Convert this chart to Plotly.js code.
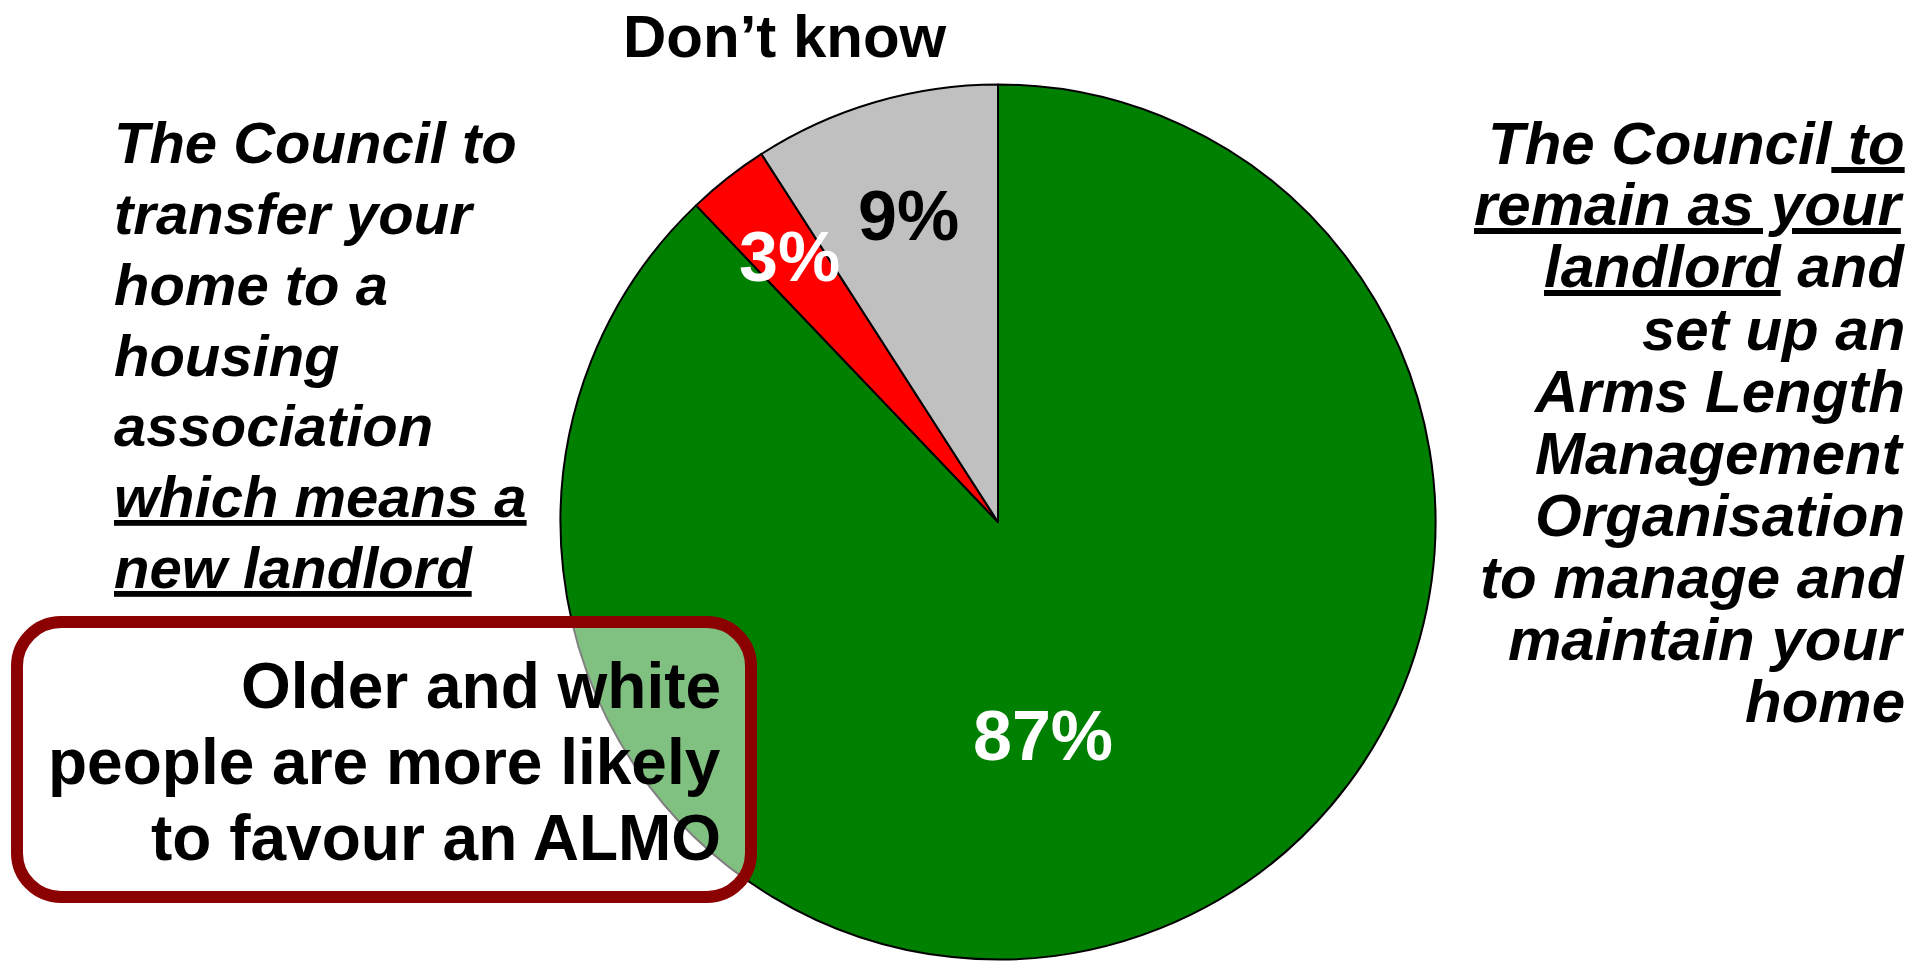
<!DOCTYPE html>
<html>
<head>
<meta charset="utf-8">
<script src="https://cdn.plot.ly/plotly-3.0.1.min.js"></script>
<style>
  html, body { margin: 0; padding: 0; background: #ffffff; }
  #chart { width: 1932px; height: 962px; }
</style>
</head>
<body>
<div id="chart"></div>
<script>
// Survey answers: preferred future for council housing
const categories = [
  "The Council to remain as your landlord and set up an ALMO",
  "The Council to transfer your home to a housing association",
  "Don\u2019t know"
];
const shares = [87, 3, 9];
const sliceColors = ["#008000", "#FF0000", "#C0C0C0"];
const labelColors = ["#FFFFFF", "#FFFFFF", "#000000"];

const topLabel = "Don\u2019t know";
const leftLines = [
  "The Council to",
  "transfer your",
  "home to a",
  "housing",
  "association",
  "<u>which means a</u>",
  "<u>new landlord</u>"
];
const rightLines = [
  "The Council<u> to</u>",
  "<u>remain as your</u>",
  "<u>landlord</u> and",
  "set up an",
  "Arms Length",
  "Management",
  "Organisation",
  "to manage and",
  "maintain your",
  "home"
];
const noteLines = [
  "Older and white",
  "people are more likely",
  "to favour an ALMO"
];

// ---- page geometry (pixels) ----
const W = 1932, H = 962;
const cx = 998, cy = 522, R = 437.5;
const FONT = "Liberation Sans, Arial, Helvetica, sans-serif";
const px = x => x / W;
const py = y => 1 - y / H;

// place a one-line annotation by its baseline
function lineAnn(text, x, baseline, size, xanchor, opts) {
  return Object.assign({
    text: text,
    xref: "paper", yref: "paper",
    x: px(x), y: py(baseline - 0.35 * size),
    xanchor: xanchor, yanchor: "middle",
    showarrow: false,
    font: { family: FONT, size: size, color: "#000000", weight: "bold" }
  }, opts || {});
}

const annotations = [];

// slice percentages, placed along each slice's mid angle
const total = shares.reduce((a, b) => a + b, 0);
const labelRadius = [0.50, 0.77, 0.73];
const labelNudge = [10, 0, 0];
let start = 0;
shares.forEach((v, i) => {
  const sweep = v / total * 360;
  const mid = (start + sweep / 2 + labelNudge[i]) * Math.PI / 180;
  start += sweep;
  const lx = cx + labelRadius[i] * R * Math.sin(mid);
  const ly = cy - labelRadius[i] * R * Math.cos(mid);
  annotations.push({
    text: "<b>" + v + "%</b>",
    xref: "paper", yref: "paper",
    x: px(lx), y: py(ly),
    xanchor: "center", yanchor: "middle",
    showarrow: false,
    font: { family: FONT, size: 70, color: labelColors[i] }
  });
});

// heading above the small slices
annotations.push(lineAnn(topLabel, 785, 57, 60, "center"));

// left-hand description
leftLines.forEach((t, i) => {
  annotations.push(lineAnn("<i>" + t + "</i>", 112, 163 + 70.8 * i, 58, "left", { align: "left" }));
});

// right-hand description
rightLines.forEach((t, i) => {
  annotations.push(lineAnn("<i>" + t + "</i>", 1907, 164 + 62 * i, 60, "right", { align: "right" }));
});

// callout text
noteLines.forEach((t, i) => {
  annotations.push(lineAnn(t, 723, 708 + 76 * i, 64, "right", { align: "right" }));
});

// rounded callout box
function roundRect(x0, y0, x1, y1, r) {
  const k = 0.5523 * r;
  const P = (x, y) => px(x) + "," + py(y);
  return "M" + P(x0 + r, y0) +
    " L" + P(x1 - r, y0) +
    " C" + P(x1 - r + k, y0) + " " + P(x1, y0 + r - k) + " " + P(x1, y0 + r) +
    " L" + P(x1, y1 - r) +
    " C" + P(x1, y1 - r + k) + " " + P(x1 - r + k, y1) + " " + P(x1 - r, y1) +
    " L" + P(x0 + r, y1) +
    " C" + P(x0 + r - k, y1) + " " + P(x0, y1 - r + k) + " " + P(x0, y1 - r) +
    " L" + P(x0, y0 + r) +
    " C" + P(x0, y0 + r - k) + " " + P(x0 + r - k, y0) + " " + P(x0 + r, y0) +
    " Z";
}

const shapes = [{
  type: "path",
  xref: "paper", yref: "paper",
  path: roundRect(17, 622, 751, 897, 44),
  fillcolor: "rgba(255,255,255,0.5)",
  line: { color: "#8B0000", width: 12 },
  layer: "above"
}];

const trace = {
  type: "pie",
  labels: categories,
  values: shares,
  sort: false,
  direction: "clockwise",
  rotation: 0,
  textinfo: "none",
  hoverinfo: "skip",
  showlegend: false,
  marker: { colors: sliceColors, line: { color: "#000000", width: 2 } },
  domain: {
    x: [(cx - R) / W, (cx + R) / W],
    y: [(H - cy - R) / H, (H - cy + R) / H]
  }
};

const layout = {
  width: W, height: H,
  margin: { l: 0, r: 0, t: 0, b: 0 },
  paper_bgcolor: "#ffffff",
  plot_bgcolor: "#ffffff",
  showlegend: false,
  annotations: annotations,
  shapes: shapes
};

Plotly.newPlot("chart", [trace], layout, { staticPlot: true, displayModeBar: false });
</script>
</body>
</html>
